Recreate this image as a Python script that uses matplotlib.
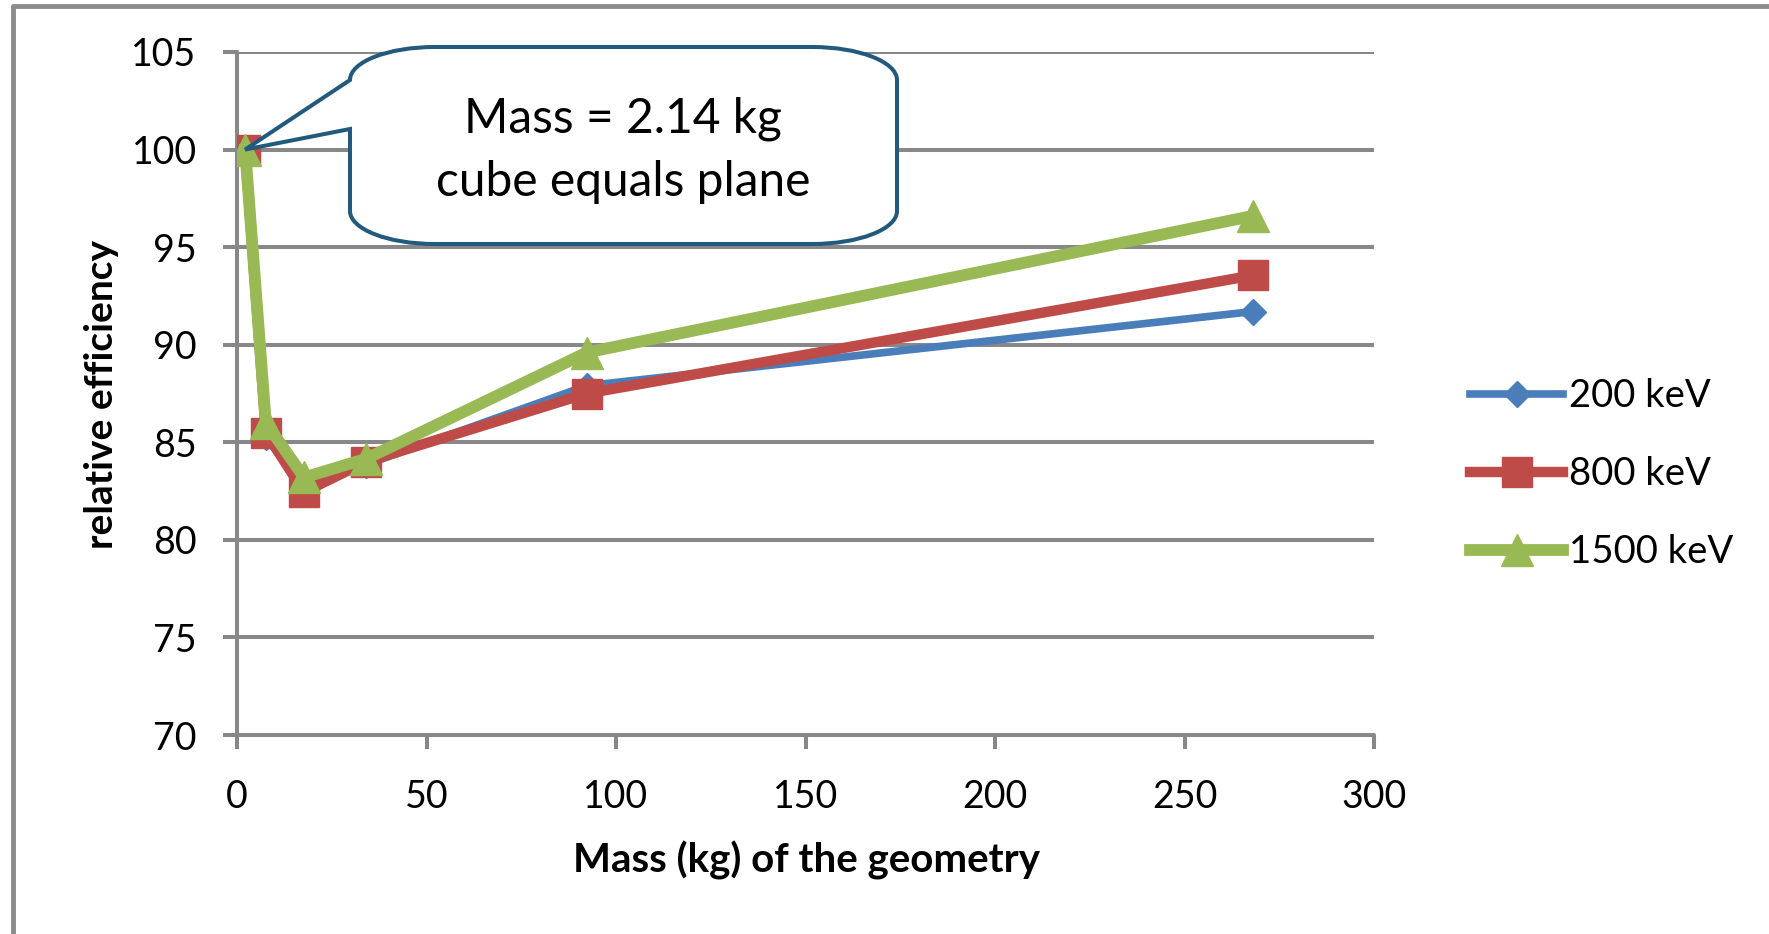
import matplotlib
matplotlib.use('Agg')
import matplotlib.pyplot as plt
from matplotlib.path import Path
from matplotlib.patches import PathPatch
from matplotlib.lines import Line2D
from matplotlib.transforms import IdentityTransform

# Data: relative efficiency vs. mass of the geometry
mass = [2.14, 7.6, 17.7, 34.0, 92.3, 268.0]
eff_200 = [100.0, 85.25, 82.7, 83.85, 87.9, 91.7]
eff_800 = [100.0, 85.5, 82.45, 84.0, 87.5, 93.55]
eff_1500 = [100.0, 86.0, 83.2, 84.15, 89.6, 96.6]

series_labels = ['200 keV', '800 keV', '1500 keV']
callout_lines = ['Mass = 2.14 kg', 'cube equals plane']

x_ticks = [0, 50, 100, 150, 200, 250, 300]
y_ticks = [70, 75, 80, 85, 90, 95, 100, 105]

plt.rcParams['font.family'] = ['Lato', 'DejaVu Sans']

W, H = 1769, 934
fig = plt.figure(figsize=(W / 100, H / 100), dpi=100)
fig.patch.set_facecolor('white')

def px(x, y):
    # pixel position measured from the top-left corner -> display coords
    return (x, H - y)

# Axes box
left, right, top, bottom = 237, 1374, 52, 735
ax = fig.add_axes([left / W, (H - bottom) / H, (right - left) / W, (bottom - top) / H])

grid_c = '#888888'
grid_lw = 2.9

ax.set_xlim(0, 300)
ax.set_ylim(70, 105)
ax.set_xticks(x_ticks)
ax.set_yticks(y_ticks)
ax.grid(axis='y', color=grid_c, linewidth=grid_lw, solid_capstyle='round')
ax.set_axisbelow(True)

for s in ['top', 'right']:
    ax.spines[s].set_visible(False)
for s in ['left', 'bottom']:
    ax.spines[s].set_color(grid_c)
    ax.spines[s].set_linewidth(grid_lw)
    ax.spines[s].set_capstyle('round')

ax.tick_params(axis='both', direction='out', length=10, width=grid_lw,
               color=grid_c, labelsize=27, labelcolor='black')
ax.tick_params(axis='y', pad=19)
ax.tick_params(axis='x', pad=22)

# Series
ax.plot(mass, eff_200, color='#4a7ebb', linewidth=5.5, marker='D', markersize=13,
        markerfacecolor='#4a7ebb', markeredgecolor='#4a7ebb', label=series_labels[0],
        solid_joinstyle='round', zorder=3)
ax.plot(mass, eff_800, color='#be4b48', linewidth=7.5, marker='s', markersize=22,
        markerfacecolor='#be4b48', markeredgecolor='#be4b48', label=series_labels[1],
        solid_joinstyle='round', zorder=4)
ax.plot(mass, eff_1500, color='#98b954', linewidth=8.5, marker='^', markersize=23,
        markerfacecolor='#98b954', markeredgecolor='#98b954', label=series_labels[2],
        solid_joinstyle='round', zorder=5)

# Axis labels
ax.set_xlabel('Mass (kg) of the geometry', fontsize=29, fontweight='bold')
ax.set_ylabel('relative efficiency', fontsize=28, fontweight='bold')
ax.xaxis.label.set_verticalalignment('center')
ax.yaxis.label.set_verticalalignment('center')
ax.xaxis.set_label_coords(0.501, -0.184)
ax.yaxis.set_label_coords(-0.119, 0.498)

# Legend to the right of the plot
leg = ax.legend(loc='center left', bbox_to_anchor=(1470 / W, (H - 474) / H),
                bbox_transform=fig.transFigure, frameon=False, fontsize=27.5,
                handlelength=2.44, handletextpad=0.15, labelspacing=1.1,
                borderpad=0, borderaxespad=0, numpoints=1)

# Rounded callout pointing at the first point
tip = ax.transData.transform((mass[0], eff_1500[0]))
bl, br, bt, bb = 350, 897, 47, 244
rx, ry = 85, 33
k = 0.5523
tail_top, tail_bot = 80, 129
verts = [
    px(bl, bt + ry),
    px(bl, bt + ry - k * ry), px(bl + rx - k * rx, bt), px(bl + rx, bt),
    px(br - rx, bt),
    px(br - rx + k * rx, bt), px(br, bt + ry - k * ry), px(br, bt + ry),
    px(br, bb - ry),
    px(br, bb - ry + k * ry), px(br - rx + k * rx, bb), px(br - rx, bb),
    px(bl + rx, bb),
    px(bl + rx - k * rx, bb), px(bl, bb - ry + k * ry), px(bl, bb - ry),
    px(bl, tail_bot),
    (tip[0], tip[1]),
    px(bl, tail_top),
    px(bl, tail_top),
]
codes = ([Path.MOVETO] + [Path.CURVE4] * 3 + [Path.LINETO] + [Path.CURVE4] * 3 +
         [Path.LINETO] + [Path.CURVE4] * 3 + [Path.LINETO] + [Path.CURVE4] * 3 +
         [Path.LINETO, Path.LINETO, Path.LINETO, Path.CLOSEPOLY])
callout = PathPatch(Path(verts, codes), facecolor='white', edgecolor='#215a7d',
                    linewidth=2.9, joinstyle='miter', transform=IdentityTransform(),
                    zorder=10)
fig.add_artist(callout)
fig.text(623 / W, (H - 150) / H, '\n'.join(callout_lines), ha='center', va='center',
         fontsize=34.5, linespacing=1.54, zorder=11)

# Chart frame (left and top edges)
fig.add_artist(Line2D([12.5, 12.5, W + 10], [-10, H - 6, H - 6], color='#8c8c8c',
                      linewidth=3.5, transform=IdentityTransform()))

fig.savefig('out.png', dpi=100)
